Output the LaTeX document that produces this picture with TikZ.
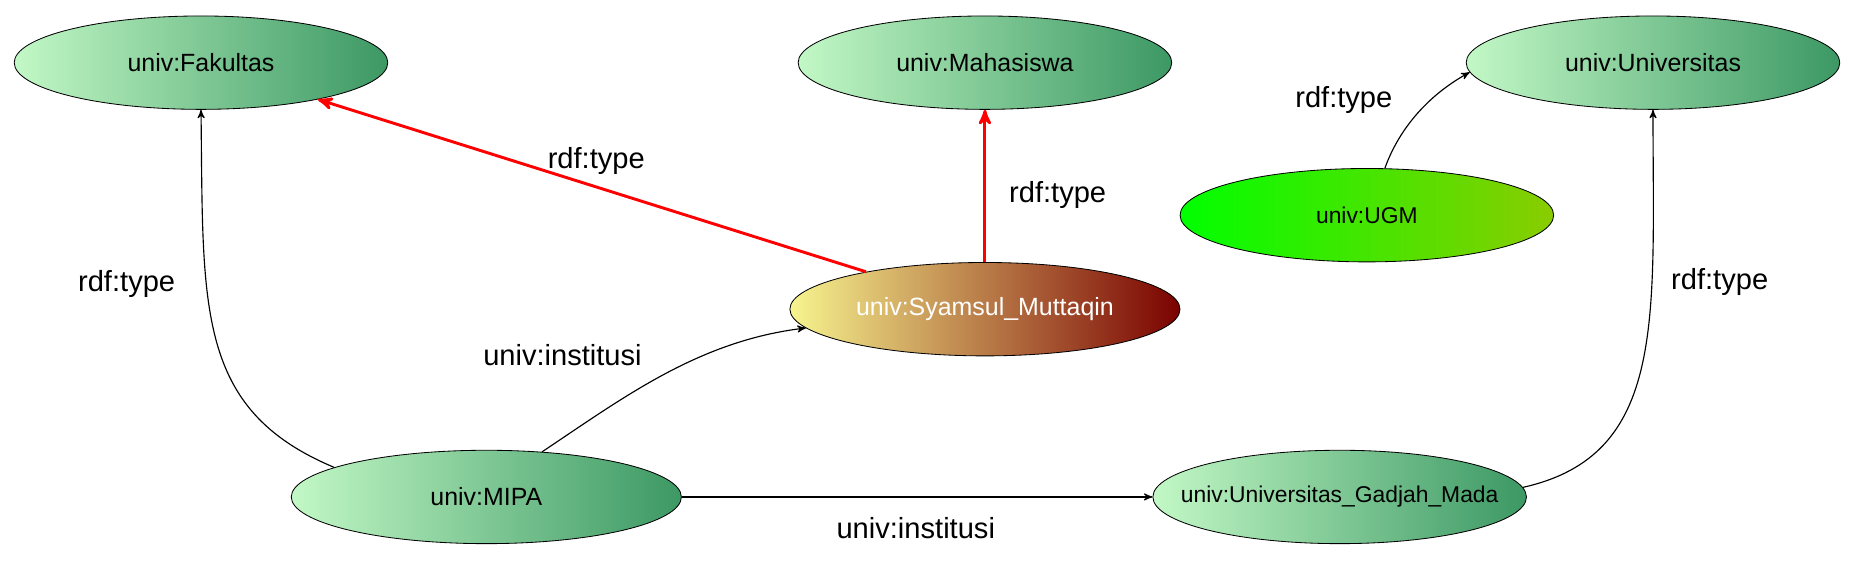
\documentclass[tikz,border=0pt]{standalone}
\usepackage{fontspec}
\setmainfont{Liberation Sans}
\usetikzlibrary{shapes}
\usetikzlibrary{arrows}
\definecolor{mint}{HTML}{C2F8C6}
\definecolor{seagreen}{HTML}{3C9864}
\definecolor{lemon}{HTML}{F7F48F}
\definecolor{tan}{HTML}{C8955A}
\definecolor{maroon}{HTML}{7A0200}
\definecolor{lime}{HTML}{00FF00}
\definecolor{olivelime}{HTML}{8ACC00}
\newcommand{\nowidth}[1]{\makebox[0pt]{#1}}
\tikzset{
	resnode/.style = {
		ellipse,
		draw=black,
		inner sep=0pt,
		minimum width=6.32cm,
		minimum height=1.58cm,
		font=\fontsize{12}{14}\selectfont
	},
	res_class/.style = {
		resnode,
		left color=mint,
		right color=seagreen
	},
	res_wide/.style = {
		res_class,
		minimum width=6.6cm
	},
	res_person/.style = {
		resnode,
		minimum width=6.6cm,
		left color=lemon,
		middle color=tan,
		right color=maroon,
		text=white
	},
	res_ugm/.style = {
		resnode,
		left color=lime,
		right color=olivelime,
		font=\fontsize{11}{13}\selectfont
	},
	rel/.style = {
		->,
		draw=black,
		line width=0.55pt
	},
	rel_type/.style = {
		->,
		draw=red,
		line width=1.4pt
	},
	lbl/.style = {
		inner sep=0pt,
		font=\fontsize{14}{17}\selectfont
	},
}

\begin{document}
\begin{tikzpicture}[x=0.02cm, y=-0.02cm, >=stealth']
\useasboundingbox (0,0) rectangle (1568,475.3);
% classes
\node [res_class] (fak) at (170,53) {univ:Fakultas};
\node [res_class] (maha) at (833,53) {univ:Mahasiswa};
\node [res_class] (uni) at (1398,53) {univ:Universitas};
% instances
\node [res_ugm] (ugm) at (1156,182) {univ:UGM};
\node [res_person] (syam) at (833,261.5) {univ:Syamsul\_Muttaqin};
\node [res_wide] (mipa) at (411.3,420.3) {univ:MIPA};
\node [res_class, font=\fontsize{11}{13}\selectfont] (gad) at (1133,420.3) {\nowidth{univ:Universitas\_Gadjah\_Mada}};

\draw [rel_type] (syam) -- (fak);
\draw [rel_type] (syam) -- (maha);
\draw [rel] (ugm.69) .. controls (1182,112) and (1205,82) .. (uni.183);
\draw [rel] (mipa.169) .. controls (165,346) and (172,260) .. (fak.south);
\draw [rel] (mipa.39) .. controls (528,335.8) and (591,288.2) .. (syam.186);
\draw [rel] (mipa) -- (gad);
\draw [rel] (gad.3) .. controls (1410,385) and (1398,270) .. (uni.south);

% edge labels
\node [lbl] (l_syam_fak) at (504.3,136.2) {rdf:type};
\node [lbl] (l_syam_maha) at (894.5,165) {rdf:type};
\node [lbl] (l_ugm_uni) at (1136.5,84.9) {rdf:type};
\node [lbl] (l_mipa_fak) at (107.1,240.3) {rdf:type};
\node [lbl] (l_mipa_syam) at (475.7,300.2) {univ:institusi};
\node [lbl] (l_mipa_gad) at (774.5,446.4) {univ:institusi};
\node [lbl] (l_gad_uni) at (1454.4,238.5) {rdf:type};
\end{tikzpicture}
\end{document}
